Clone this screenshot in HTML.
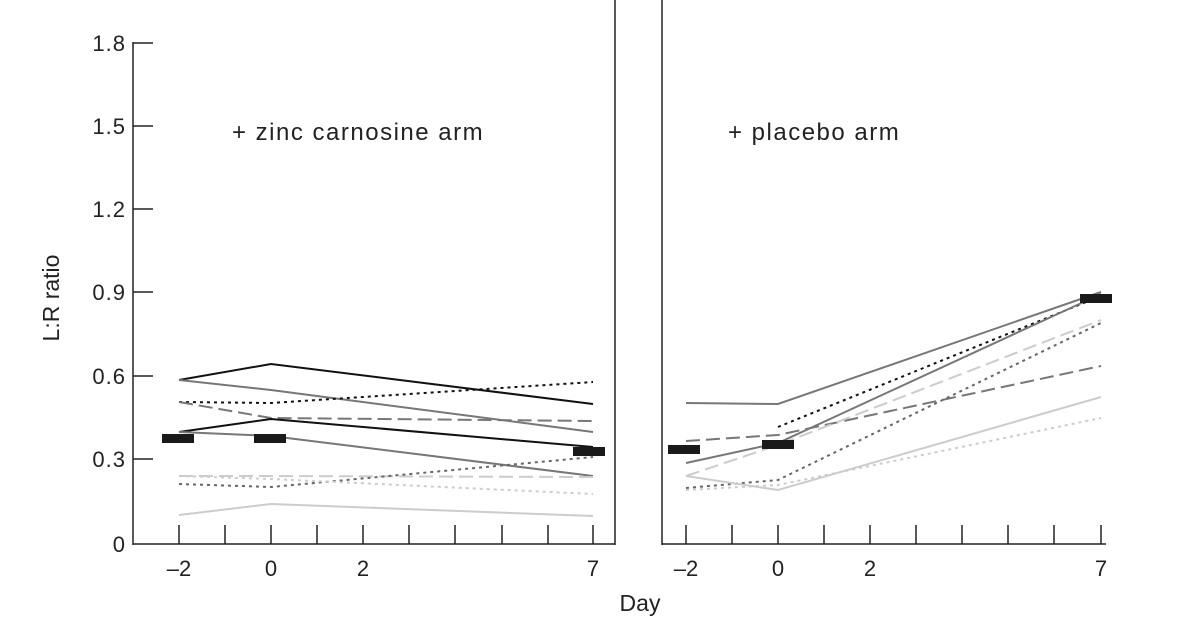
<!DOCTYPE html>
<html><head><style>body{margin:0;background:#fff}</style></head><body>
<svg width="1200" height="630" xmlns="http://www.w3.org/2000/svg" font-family="Liberation Sans, sans-serif" fill="none">
<g stroke="#222" stroke-width="1.5">
<line x1="133" y1="42" x2="133" y2="545"/><line x1="133" y1="544" x2="615" y2="544"/><line x1="615" y1="0" x2="615" y2="545"/>
<line x1="662" y1="0" x2="662" y2="545"/><line x1="662" y1="544" x2="1106" y2="544"/>
<path d="M133 43h20M133 126h20M133 209h20M133 292h20M133 376h20M133 459h20"/>
<path d="M179 525v19M225 525v19M271 525v19M317 525v19M363 525v19M409 525v19M455 525v19M502 525v19M548 525v19M593 525v19"/>
<path d="M686 525v19M732 525v19M778 525v19M824 525v19M870 525v19M916 525v19M962 525v19M1008 525v19M1054 525v19M1101 525v19"/>
</g>
<g font-size="22" fill="#222" text-anchor="end" letter-spacing="1">
<text x="126" y="51">1.8</text><text x="126" y="134">1.5</text><text x="126" y="217">1.2</text><text x="126" y="300">0.9</text><text x="126" y="384">0.6</text><text x="126" y="467">0.3</text><text x="126" y="552">0</text>
</g>
<g font-size="22" fill="#222" text-anchor="middle">
<text x="179" y="576">–2</text><text x="271" y="576">0</text><text x="363" y="576">2</text><text x="593" y="576">7</text>
<text x="686" y="576">–2</text><text x="778" y="576">0</text><text x="870" y="576">2</text><text x="1101" y="576">7</text>
<text x="640" y="611" font-size="23">Day</text>
<text transform="translate(59,298) rotate(-90)" font-size="23">L:R ratio</text>
</g>
<text x="232" y="140" font-size="24" fill="#222" letter-spacing="1.5">+ zinc carnosine arm</text>
<text x="728" y="140" font-size="24" fill="#222" letter-spacing="1.5">+ placebo arm</text>
<g stroke-width="2">
<polyline points="179,380 271,364 593,404" stroke="#111"/>
<polyline points="179,380 271,390 593,432" stroke="#777"/>
<polyline points="179,402 271,403 593,382" stroke="#111" stroke-dasharray="3,4"/>
<polyline points="179,402 271,418 593,421" stroke="#777" stroke-dasharray="14,6"/>
<polyline points="179,432 271,419 593,447" stroke="#111"/>
<polyline points="179,432 271,436 593,476" stroke="#777"/>
<polyline points="179,476 271,476 593,477" stroke="#ccc" stroke-dasharray="14,6"/>
<polyline points="179,484 271,487 593,457" stroke="#666" stroke-dasharray="3,4"/>
<polyline points="179,476 271,479 593,494" stroke="#ccc" stroke-dasharray="3,4"/>
<polyline points="179,515 271,504 593,516" stroke="#ccc"/>
<polyline points="686,403 778,404 1101,292" stroke="#777"/>
<polyline points="778,427 1101,296" stroke="#111" stroke-dasharray="3,4"/>
<polyline points="686,463 778,443 1101,294" stroke="#777"/>
<polyline points="686,441 778,435 1101,366" stroke="#777" stroke-dasharray="14,6"/>
<polyline points="686,476 778,445 1101,320" stroke="#ccc" stroke-dasharray="14,6"/>
<polyline points="686,488 778,480 1101,323" stroke="#666" stroke-dasharray="3,4"/>
<polyline points="686,476 778,490 1101,397" stroke="#ccc"/>
<polyline points="686,490 778,485 1101,418" stroke="#ccc" stroke-dasharray="3,4"/>
</g>
<g fill="#1a1a1a">
<rect x="162" y="434" width="32" height="9"/><rect x="254" y="434" width="32" height="9"/><rect x="573" y="447" width="32" height="9"/>
<rect x="668" y="445" width="32" height="9"/><rect x="762" y="440" width="32" height="9"/><rect x="1080" y="294" width="32" height="9"/>
</g>
</svg>
</body></html>
